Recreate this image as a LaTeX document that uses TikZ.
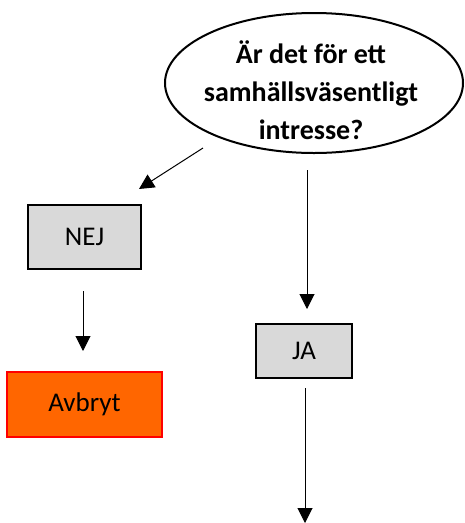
\documentclass[tikz,border=0pt]{standalone}
\usepackage{fontspec}
\setmainfont{Carlito}
\usetikzlibrary{shapes.geometric,arrows.meta}
\definecolor{boxgray}{HTML}{D9D9D9}
\definecolor{stoporange}{HTML}{FF6600}
\tikzset{
  arr/.style={line width=1pt, -{Triangle[length=15pt,width=15pt]}},
  graybox/.style={draw=black, line width=1.5pt, fill=boxgray, inner sep=0pt, font=\fontsize{27}{32}\selectfont},
}
\begin{document}
\begin{tikzpicture}[x=1pt,y=-1pt]
\useasboundingbox (0,0) rectangle (465,523);
\node[ellipse, draw=black, line width=2pt, minimum width=298pt, minimum height=140pt, inner sep=0pt] (q) at (314,83) {};
\node[align=center, font=\fontsize{28}{38}\selectfont\bfseries, inner sep=0pt] (qt) at (311,90) {Är det för ett\\samhällsväsentligt\\intresse?};
\node[graybox, minimum width=113pt, minimum height=64pt] (nej) at (84.5,237) {NEJ};
\node[draw=red, line width=1.5pt, fill=stoporange, inner sep=0pt, minimum width=155pt, minimum height=65pt, font=\fontsize{27}{32}\selectfont] (avb) at (84.5,404.5) {Avbryt};
\node[graybox, minimum width=96pt, minimum height=54pt] (ja) at (304,351) {JA};
\coordinate (a1s) at (203,148);
\coordinate (a1e) at (139,189);
\coordinate (a2s) at (83,291);
\coordinate (a2e) at (83,351);
\coordinate (a3s) at (307,170);
\coordinate (a3e) at (307,309);
\coordinate (a4s) at (305,388);
\coordinate (a4e) at (305,523);
\draw[arr] (a1s) -- (a1e);
\draw[arr] (a2s) -- (a2e);
\draw[arr] (a3s) -- (a3e);
\draw[arr] (a4s) -- (a4e);
\end{tikzpicture}
\end{document}
